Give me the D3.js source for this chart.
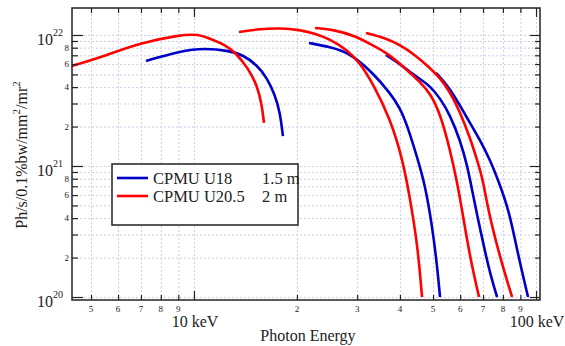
<!DOCTYPE html>
<html>
<head>
<meta charset="utf-8">
<script src="https://cdn.jsdelivr.net/npm/d3@7"></script>
<style>
	body{margin:0;background:#fff;}
	svg{font-family:"Liberation Serif","Times New Roman",serif;}
	.grid line{stroke:#cdcdea;stroke-dasharray:2,2;}
	.grid path{display:none;}
	.ticks path{display:none;}
	.ticks line{stroke:#222;stroke-width:1.2;}
	.label{font-family:"Liberation Serif","Times New Roman",serif;fill:#222;}
</style>
</head>
<body>
<div id="idChart"></div>
<script>
// CPMU U18 (1.5 m) harmonics 1,3,5,7
var aU18H1Energy=[7.24, 9.10, 10.77, 12.74, 13.91, 15.29, 16.35, 17.25, 17.84, 18.20];
var aU18H1Flux=[6.33e21, 7.55e21, 7.96e21, 7.55e21, 7.04e21, 5.90e21, 4.70e21, 3.48e21, 2.58e21, 1.69e21];
var aU18H3Energy=[21.69, 24.98, 28.58, 33.38, 37.42, 40.04, 41.97, 45.18, 47.36, 49.64, 51.35, 52.40];
var aU18H3Flux=[8.69e21, 8.10e21, 7.29e21, 5.13e21, 3.61e21, 2.77e21, 2.06e21, 1.11e21, 7.16e20, 3.55e20, 1.76e20, 1.0e20];
var aU18H5Energy=[36.43, 39.24, 42.82, 45.79, 48.98, 52.40, 56.06, 59.95, 62.87, 65.02, 66.79, 70.95, 73.88, 76.93];
var aU18H5Flux=[7.04e21, 6.22e21, 5.22e21, 4.61e21, 4.08e21, 3.30e21, 2.45e21, 1.58e21, 1.02e21, 6.56e20, 4.61e20, 2.21e20, 1.42e20, 1.0e20];
var aU18H7Energy=[51.00, 56.06, 62.87, 68.60, 73.39, 77.45, 83.39, 88.61, 94.76];
var aU18H7Flux=[5.13e21, 3.94e21, 2.32e21, 1.58e21, 1.11e21, 7.82e20, 4.61e20, 2.09e20, 1.0e20];

// CPMU U20.5 (2 m) harmonics 1,3,5,7
var aU205H1Energy=[4.40, 5.49, 6.95, 9.10, 10.27, 11.37, 12.32, 13.18, 14.38, 15.29, 15.80, 16.02];
var aU205H1Flux=[5.80e21, 6.92e21, 8.69e21, 1.00e22, 1.02e22, 9.16e21, 8.39e21, 7.42e21, 5.60e21, 4.15e21, 2.92e21, 2.13e21];
var aU205H3Energy=[13.54, 15.60, 17.84, 20.42, 22.28, 24.98, 28.02, 30.58, 33.38, 37.42, 40.85, 43.40, 45.18, 46.42];
var aU205H3Flux=[1.054e22, 1.111e22, 1.131e22, 1.092e22, 1.036e22, 9.32e21, 7.69e21, 6.11e21, 4.23e21, 2.32e21, 1.11e21, 4.61e20, 2.29e20, 1.0e20];
var aU205H5Energy=[22.59, 25.84, 29.56, 32.71, 36.19, 39.24, 42.82, 45.79, 48.98, 52.40, 56.06, 58.76, 60.77, 64.15, 68.13];
var aU205H5Flux=[1.131e22, 1.092e22, 9.83e21, 8.54e21, 7.42e21, 6.33e21, 5.13e21, 4.38e21, 3.61e21, 2.54e21, 1.33e21, 7.55e20, 4.61e20, 1.99e20, 1.0e20];
var aU205H7Energy=[31.84, 36.19, 40.04, 44.28, 48.98, 52.40, 56.06, 59.95, 64.15, 67.24, 70.00, 72.39, 78.50, 85.10];
var aU205H7Flux=[1.036e22, 9.49e21, 8.39e21, 7.04e21, 5.60e21, 4.70e21, 3.67e21, 2.58e21, 1.64e21, 1.11e21, 7.82e20, 4.61e20, 1.99e20, 1.0e20];

var aSeriesNames=["CPMU U18", "CPMU U20.5"];
var aSeriesLengths=["1.5 m", "2 m"];
var aSeriesColors=["#0000c8", "#ff0000"];

var aXMinorTicks=[5, 6, 7, 8, 9, 20, 30, 40, 50, 60, 70, 80, 90];
var aXMinorLabels=["5", "6", "7", "8", "9", "2", "3", "4", "5", "6", "7", "8", "9"];
var aXMajorTicks=[10, 100];
var aXMajorLabels=["10 keV", "100 keV"];
var aYMinorTicks=[2e20, 3e20, 4e20, 5e20, 6e20, 7e20, 8e20, 9e20, 2e21, 3e21, 4e21, 5e21, 6e21, 7e21, 8e21, 9e21];
var aYMinorLabels=["2", "", "4", "", "6", "", "8", "", "2", "", "4", "", "6", "", "8", ""];
var aYMajorTicks=[1e20, 1e21, 1e22];
var aYMajorExponents=["20", "21", "22"];

function DrawUndulatorChart()
{
	var iWidth=565;
	var iHeight=346;
	var iLeft=72, iRight=540, iTop=8, iBottom=300;

	var myCanvas=d3.select("#idChart").append("svg")
		.attr("width", iWidth)
		.attr("height", iHeight);

	var myX=d3.scaleLog().domain([4.4, 102.7]).range([iLeft, iRight]);
	var myY=d3.scaleLog().domain([9.487e19, 1.607e22]).range([iBottom, iTop]);

	var aAllX=aXMinorTicks.concat(aXMajorTicks);
	var aAllY=aYMinorTicks.concat(aYMajorTicks);

	// dotted grid
	myCanvas.append("g").attr("class", "grid")
		.attr("transform", "translate(0," + iBottom + ")")
		.call(d3.axisBottom(myX).tickValues(aAllX).tickSize(-(iBottom - iTop)).tickFormat(""));
	myCanvas.append("g").attr("class", "grid")
		.attr("transform", "translate(" + iLeft + ",0)")
		.call(d3.axisLeft(myY).tickValues(aAllY).tickSize(-(iRight - iLeft)).tickFormat(""));

	// curves
	myCanvas.append("clipPath").attr("id", "idPlotClip")
		.append("rect").attr("x", iLeft).attr("y", iTop)
		.attr("width", iRight - iLeft).attr("height", iBottom - iTop);

	var myLine=d3.line()
		.x(function(d) { return myX(d[0]); })
		.y(function(d) { return myY(d[1]); })
		.curve(d3.curveBasis);

	var aCurves=[
		{iSeries:0, aData:d3.zip(aU18H1Energy, aU18H1Flux)},
		{iSeries:0, aData:d3.zip(aU18H3Energy, aU18H3Flux)},
		{iSeries:0, aData:d3.zip(aU18H5Energy, aU18H5Flux)},
		{iSeries:0, aData:d3.zip(aU18H7Energy, aU18H7Flux)},
		{iSeries:1, aData:d3.zip(aU205H1Energy, aU205H1Flux)},
		{iSeries:1, aData:d3.zip(aU205H3Energy, aU205H3Flux)},
		{iSeries:1, aData:d3.zip(aU205H5Energy, aU205H5Flux)},
		{iSeries:1, aData:d3.zip(aU205H7Energy, aU205H7Flux)}
	];

	myCanvas.append("g").attr("clip-path", "url(#idPlotClip)")
		.selectAll("path")
		.data(aCurves)
		.enter().append("path")
			.attr("d", function(c) { return myLine(c.aData); })
			.attr("fill", "none")
			.attr("stroke", function(c) { return aSeriesColors[c.iSeries]; })
			.attr("stroke-width", 2.6)
			.attr("stroke-linecap", "butt");

	// frame
	myCanvas.append("rect")
		.attr("x", iLeft).attr("y", iTop)
		.attr("width", iRight - iLeft).attr("height", iBottom - iTop)
		.attr("fill", "none").attr("stroke", "#222").attr("stroke-width", 1.5);

	// tick marks on all four sides, pointing inward (labels drawn below)
	function AddTicks(myAxis, sTransform)
	{
		myCanvas.append("g").attr("class", "ticks")
			.attr("transform", sTransform)
			.call(myAxis.tickFormat(""));
	}

	AddTicks(d3.axisBottom(myX).tickValues(aXMinorTicks).tickSize(-5), "translate(0," + iBottom + ")");
	AddTicks(d3.axisBottom(myX).tickValues(aXMajorTicks).tickSize(-9), "translate(0," + iBottom + ")");
	AddTicks(d3.axisTop(myX).tickValues(aXMinorTicks).tickSize(-5), "translate(0," + iTop + ")");
	AddTicks(d3.axisTop(myX).tickValues(aXMajorTicks).tickSize(-9), "translate(0," + iTop + ")");
	AddTicks(d3.axisLeft(myY).tickValues(aYMinorTicks).tickSize(-6), "translate(" + iLeft + ",0)");
	AddTicks(d3.axisLeft(myY).tickValues(aYMajorTicks).tickSize(-11), "translate(" + iLeft + ",0)");
	AddTicks(d3.axisRight(myY).tickValues(aYMinorTicks).tickSize(-5), "translate(" + iRight + ",0)");
	AddTicks(d3.axisRight(myY).tickValues(aYMajorTicks).tickSize(-10), "translate(" + iRight + ",0)");

	// x tick labels
	myCanvas.append("g").selectAll("text")
		.data(aXMinorTicks)
		.enter().append("text")
			.attr("class", "label")
			.attr("x", function(d) { return myX(d); })
			.attr("y", 312)
			.attr("text-anchor", "middle")
			.style("font-size", "9px")
			.text(function(d, i) { return aXMinorLabels[i]; });
	myCanvas.append("g").selectAll("text")
		.data(aXMajorTicks)
		.enter().append("text")
			.attr("class", "label")
			.attr("x", function(d) { return myX(d) + 1; })
			.attr("y", 327)
			.attr("text-anchor", "middle")
			.style("font-size", "16px")
			.text(function(d, i) { return aXMajorLabels[i]; });

	// y tick labels
	myCanvas.append("g").selectAll("text")
		.data(aYMinorTicks)
		.enter().append("text")
			.attr("class", "label")
			.attr("x", 69)
			.attr("y", function(d) { return myY(d) + 3; })
			.attr("text-anchor", "end")
			.style("font-size", "9px")
			.text(function(d, i) { return aYMinorLabels[i]; });
	myCanvas.append("g").selectAll("text")
		.data(aYMajorTicks)
		.enter().append("text")
			.attr("class", "label")
			.attr("x", 53)
			.attr("y", function(d) { return myY(d) + 10; })
			.attr("text-anchor", "end")
			.style("font-size", "16px")
			.text("10");
	myCanvas.append("g").selectAll("text")
		.data(aYMajorTicks)
		.enter().append("text")
			.attr("class", "label")
			.attr("x", 53)
			.attr("y", function(d) { return myY(d) + 1; })
			.style("font-size", "10px")
			.text(function(d, i) { return aYMajorExponents[i]; });

	// axis titles
	myCanvas.append("text")
		.attr("class", "label")
		.attr("x", (iLeft + iRight) / 2 + 2)
		.attr("y", 341)
		.attr("text-anchor", "middle")
		.style("font-size", "16px")
		.text("Photon Energy");

	var myYTitle=myCanvas.append("text")
		.attr("class", "label")
		.attr("transform", "translate(27,155) rotate(-90)")
		.attr("text-anchor", "middle")
		.style("font-size", "16px");
	myYTitle.append("tspan").text("Ph/s/0.1%bw/mm");
	myYTitle.append("tspan").attr("dy", -7).style("font-size", "11px").text("2");
	myYTitle.append("tspan").attr("dy", 7).text("/mr");
	myYTitle.append("tspan").attr("dy", -7).style("font-size", "11px").text("2");

	// legend
	var gLegend=myCanvas.append("g");
	gLegend.append("rect")
		.attr("x", 112).attr("y", 164)
		.attr("width", 186).attr("height", 61)
		.attr("fill", "#fff").attr("stroke", "#222").attr("stroke-width", 1.5);

	var gItems=gLegend.selectAll(".LegendItem")
		.data(aSeriesNames)
		.enter().append("g")
			.attr("class", "LegendItem")
			.attr("transform", function(d, i) { return "translate(0," + (178 + i * 18) + ")"; });
	gItems.append("line")
		.attr("x1", 117).attr("x2", 148)
		.attr("stroke", function(d, i) { return aSeriesColors[i]; })
		.attr("stroke-width", 2.6);
	gItems.append("text")
		.attr("class", "label")
		.attr("x", 153).attr("y", 5.5)
		.style("font-size", "16.5px")
		.text(function(d) { return d; });
	gItems.append("text")
		.attr("class", "label")
		.attr("x", 262).attr("y", 5.5)
		.style("font-size", "16.5px")
		.text(function(d, i) { return aSeriesLengths[i]; });
}

DrawUndulatorChart();
</script>
</body>
</html>
